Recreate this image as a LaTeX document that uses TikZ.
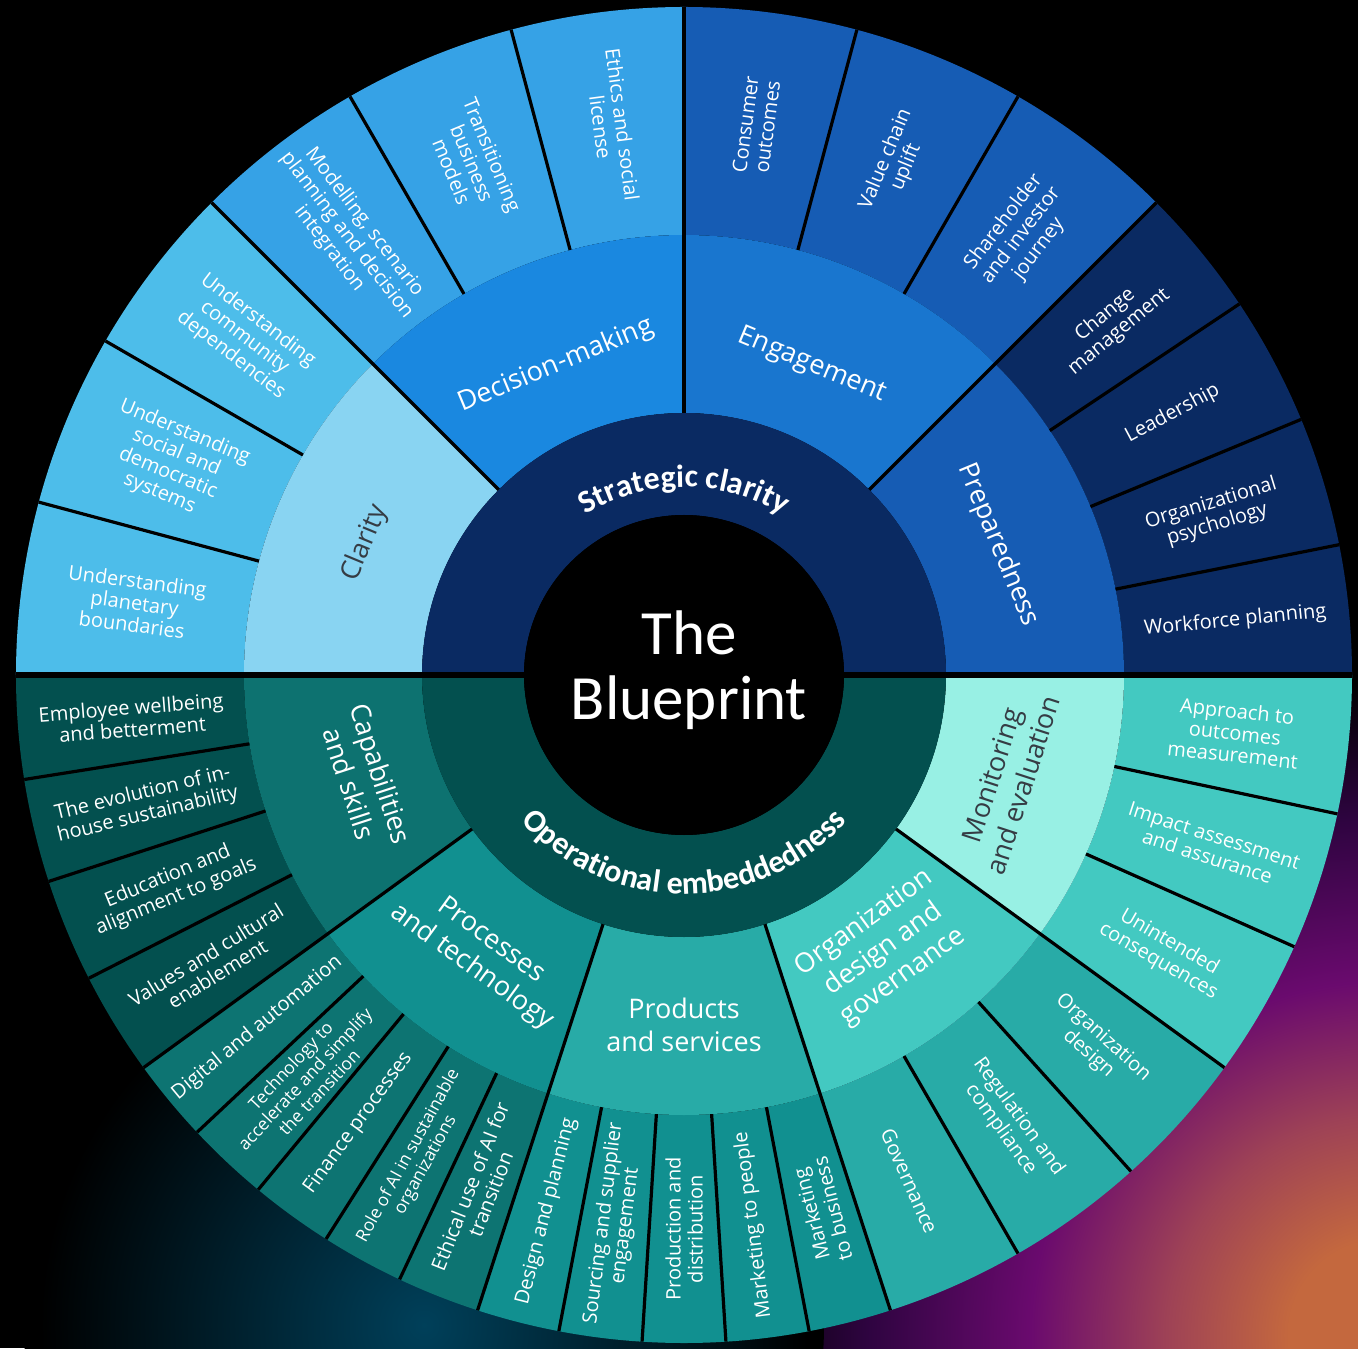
\documentclass[tikz,border=0pt]{standalone}
\usepackage{fontspec}
\setmainfont{Open Sans}
\newfontfamily\calfont{Carlito}
\usetikzlibrary{decorations.text}

\definecolor{stratring}{HTML}{0A2A62}
\definecolor{clarsub}{HTML}{89D4F2}
\definecolor{clarleaf}{HTML}{4DBDEA}
\definecolor{decisub}{HTML}{1A88E0}
\definecolor{decileaf}{HTML}{36A2E6}
\definecolor{engasub}{HTML}{1976CF}
\definecolor{engaleaf}{HTML}{165CB4}
\definecolor{prepsub}{HTML}{165CB4}
\definecolor{prepleaf}{HTML}{0A2A62}
\definecolor{operring}{HTML}{03504F}
\definecolor{capasub}{HTML}{0D7270}
\definecolor{capaleaf}{HTML}{03504F}
\definecolor{procsub}{HTML}{119090}
\definecolor{procleaf}{HTML}{0D7472}
\definecolor{prodsub}{HTML}{28ABA7}
\definecolor{prodleaf}{HTML}{119090}
\definecolor{orgasub}{HTML}{43C9C1}
\definecolor{orgaleaf}{HTML}{28ABA7}
\definecolor{monisub}{HTML}{98F0E4}
\definecolor{monileaf}{HTML}{43C9C1}
\definecolor{labelgray}{HTML}{353C44}
\definecolor{glowA}{HTML}{C4683E}
\definecolor{glowB}{HTML}{9E4256}
\definecolor{glowC}{HTML}{6A0A6E}
\definecolor{glowD}{HTML}{2E0440}
\definecolor{glowE}{HTML}{00405A}

% tikz fits 25bp of a radial shading to the radius of the shaded circle
\pgfdeclareradialshading{cornerglow}{\pgfpoint{0bp}{0bp}}{color(0bp)=(glowA); color(3.5bp)=(glowA); color(8bp)=(glowB); color(13bp)=(glowC); color(19bp)=(glowD); color(24bp)=(black); color(50bp)=(black)}
\pgfdeclareradialshading{tealglow}{\pgfpoint{0bp}{0bp}}{color(0bp)=(glowE); color(24bp)=(black); color(50bp)=(black)}

% colour, start angle, end angle, inner radius, outer radius
\newcommand{\ringpart}[5]{\fill[#1] (#2:#4) arc[start angle=#2, end angle=#3, radius=#4] -- (#3:#5) arc[start angle=#3, end angle=#2, radius=#5] -- cycle;}
\newcommand{\ringfont}{\calfont\bfseries\fontsize{16}{18}\selectfont}

\tikzset{
  leaf/.style={text=white, align=center, inner sep=0pt, font=\fontsize{10}{11}\selectfont},
  smallleaf/.style={leaf, font=\fontsize{8.75}{9.8}\selectfont},
  branch/.style={text=white, align=center, inner sep=0pt, font=\fontsize{13.5}{16.5}\selectfont},
  divider/.style={draw=black, line width=1.6pt},
}

\begin{document}
\begin{tikzpicture}[x=0.5pt, y=0.5pt]

      \useasboundingbox (-684,-673) rectangle (674,675);
      \fill[black] (-684,-673) rectangle (674,675);
      \begin{scope}
        \clip (-684,-673) rectangle (674,675);
        \shade[shading=cornerglow] (700,-660) circle[radius=680];
        \shade[shading=tealglow] (-260,-650) circle[radius=400];
      \end{scope}

      % outer ring
      \ringpart{clarleaf}{135}{180}{440}{668}
      \ringpart{decileaf}{90}{135}{440}{668}
      \ringpart{engaleaf}{45}{90}{440}{668}
      \ringpart{prepleaf}{0}{45}{440}{668}
      \ringpart{capaleaf}{180}{216}{440}{668}
      \ringpart{procleaf}{216}{252}{440}{668}
      \ringpart{prodleaf}{252}{288}{440}{668}
      \ringpart{orgaleaf}{288}{324}{440}{668}
      \ringpart{monileaf}{324}{360}{440}{668}

      % middle ring
      \ringpart{clarsub}{135}{180}{262}{440}
      \ringpart{decisub}{90}{135}{262}{440}
      \ringpart{engasub}{45}{90}{262}{440}
      \ringpart{prepsub}{0}{45}{262}{440}
      \ringpart{capasub}{180}{216}{262}{440}
      \ringpart{procsub}{216}{252}{262}{440}
      \ringpart{prodsub}{252}{288}{262}{440}
      \ringpart{orgasub}{288}{324}{262}{440}
      \ringpart{monisub}{324}{360}{262}{440}

      % inner ring and centre
      \ringpart{stratring}{0}{180}{160}{262}
      \ringpart{operring}{180}{360}{160}{262}
      \fill[black] (0,0) circle[radius=160];

      % dividers
      \draw[divider, line width=3pt] (180:668) -- (0:668);
      \foreach \a in {45,90,135,216,252,288,324}
        \draw[divider] (\a:262) -- (\a:668);
      \foreach \a in {150,165,105,120,60,75,11.25,22.5,33.75,189,198,207,223.2,230.4,237.6,244.8,259.2,266.4,273.6,280.8,300,312,336,348}
        \draw[divider] (\a:440) -- (\a:668);

      % centre and inner ring texts
      \node[text=white, align=center, inner sep=0pt, font=\calfont\fontsize{31.5}{32.5}\selectfont] (blueprint) at (5,5) {The\\Blueprint};
      \path[decorate, decoration={text along path, text={|\ringfont|Strategic clarity}, text align=center, text color=white}]
        (160:188) arc[start angle=160, end angle=20, radius=188];
      \path[decorate, decoration={text along path, text={|\ringfont|Operational embeddedness}, text align=center, text color=white}]
        (200:219) arc[start angle=200, end angle=340, radius=219];

      % middle ring texts
      \begin{scope}[every node/.style={branch}]
        \node[text=labelgray, rotate=67.5] (clarity)     at (157.5:345) {Clarity};
        \node[rotate=22.5]                 (decision)    at (112.5:335) {Decision-making};
        \node[rotate=-22.5]                (engagement)  at (67.5:335)  {Engagement};
        \node[rotate=-67.5]                (preparedness) at (22.5:340) {Preparedness};
        \node[rotate=-72]                  (capabilities) at (198:335)  {Capabilities\\and skills};
        \node[rotate=-36]                  (processes)   at (234:345)   {Processes\\and technology};
        \node                              (products)    at (270:350)   {Products\\and services};
        \node[rotate=36]                   (organization) at (306:340)  {Organization\\design and\\governance};
        \node[text=labelgray, rotate=72]   (monitoring)  at (342:340)   {Monitoring\\and evaluation};
      \end{scope}

      % outer ring texts
      \begin{scope}[every node/.style={leaf}]
        \node[rotate=-7.5]    (planetary)   at (172.5:554)  {Understanding\\planetary\\boundaries};
        \node[rotate=-22.5]   (social)      at (157.5:554)  {Understanding\\social and\\democratic\\systems};
        \node[rotate=-37.5]   (community)   at (142.5:554)  {Understanding\\community\\dependencies};
        \node[rotate=-52.5]   (modelling)   at (127.5:554)  {Modelling, scenario\\planning and decision\\integration};
        \node[rotate=-67.5]   (transition)  at (112.5:554)  {Transitioning\\business\\models};
        \node[rotate=-82.5]   (ethics)      at (97.5:554)   {Ethics and social\\license};
        \node[rotate=82.5]    (consumer)    at (82.5:554)   {Consumer\\outcomes};
        \node[rotate=67.5]    (valuechain)  at (67.5:554)   {Value chain\\uplift};
        \node[rotate=52.5]    (shareholder) at (52.5:554)   {Shareholder\\and investor\\journey};
        \node[rotate=39.375]  (change)      at (39.375:554) {Change\\management};
        \node[rotate=28.125]  (leadership)  at (28.125:554) {Leadership};
        \node[rotate=16.875]  (psychology)  at (16.875:554) {Organizational\\psychology};
        \node[rotate=5.625]   (workforce)   at (5.625:554)  {Workforce planning};
        \node[rotate=4.5]     (wellbeing)   at (184.5:554)  {Employee wellbeing\\and betterment};
        \node[rotate=13.5]    (evolution)   at (193.5:554)  {The evolution of in-\\house sustainability};
        \node[rotate=22.5]    (education)   at (202.5:554)  {Education and\\alignment to goals};
        \node[rotate=31.5]    (values)      at (211.5:554)  {Values and cultural\\enablement};
        \node[rotate=39.6]    (digital)     at (219.6:554)  {Digital and automation};
        \node[smallleaf, rotate=46.8] (technology) at (226.8:554) {Technology to\\accelerate and simplify\\the transition};
        \node[rotate=54]      (finance)     at (234:554)    {Finance processes};
        \node[smallleaf, rotate=61.2] (roleai) at (241.2:554) {Role of AI in sustainable\\organizations};
        \node[rotate=68.4]    (ethicalai)   at (248.4:554)  {Ethical use of AI for\\transition};
        \node[rotate=75.6]    (design)      at (255.6:554)  {Design and planning};
        \node[rotate=82.8]    (sourcing)    at (262.8:554)  {Sourcing and supplier\\engagement};
        \node[rotate=90]      (production)  at (270:554)    {Production and\\distribution};
        \node[rotate=97.2]    (mkpeople)    at (277.2:554)  {Marketing to people};
        \node[rotate=104.4]   (mkbusiness)  at (284.4:554)  {Marketing\\to business};
        \node[rotate=-66]     (governance)  at (294:554)    {Governance};
        \node[rotate=-54]     (regulation)  at (306:554)    {Regulation and\\compliance};
        \node[rotate=-42]     (orgdesign)   at (318:554)    {Organization\\design};
        \node[rotate=-30]     (unintended)  at (330:554)    {Unintended\\consequences};
        \node[rotate=-18]     (impact)      at (342:554)    {Impact assessment\\and assurance};
        \node[rotate=-6]      (approach)    at (354:554)    {Approach to\\outcomes\\measurement};
      \end{scope}

    \end{tikzpicture}
\end{document}
